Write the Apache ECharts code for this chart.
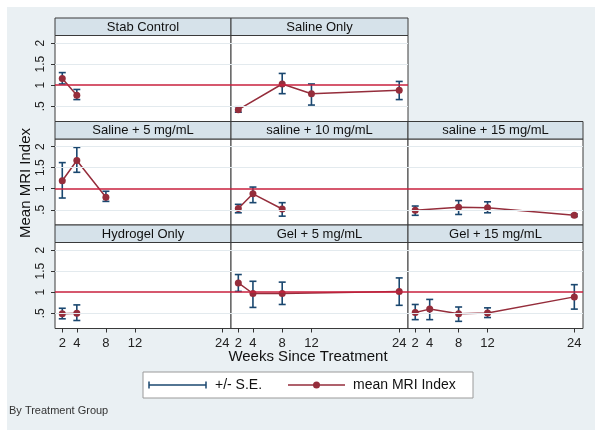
<!DOCTYPE html>
<html><head><meta charset="utf-8">
<script src="https://cdn.jsdelivr.net/npm/echarts@6/dist/echarts.min.js"></script>
<style>
html,body{margin:0;padding:0;background:#fff;}
#bg{position:absolute;left:7px;top:7px;width:588px;height:423px;background:#eaf0f3;}
#chart{position:absolute;left:0;top:0;width:602px;height:437px;}
</style></head>
<body><div id="bg"></div><div id="chart"></div>
<script>
// ---------- data ----------
const panelTitles = ['Stab Control','Saline Only','Saline + 5 mg/mL','saline + 10 mg/mL','saline + 15 mg/mL','Hydrogel Only','Gel + 5 mg/mL','Gel + 15 mg/mL'];
const weeksList = [[2,4],[2,8,12,24],[2,4,8],[2,4,8],[2,8,12,24],[2,4],[2,4,8,24],[2,4,8,12,24]];
const meanList  = [[1.16,0.76],[0.42,1.03,0.80,0.88],[1.19,1.67,0.80],[0.53,0.88,0.52],[0.49,0.56,0.55,0.37],[0.49,0.50],[1.22,0.97,0.97,1.02],[0.52,0.60,0.49,0.51,0.89]];
const seLow     = [[1.03,0.66],[0.36,0.80,0.53,0.66],[0.78,1.39,0.70],[0.43,0.67,0.35],[0.37,0.39,0.43,0.34],[0.37,0.33],[1.02,0.64,0.71,0.69],[0.35,0.35,0.31,0.40,0.60]];
const seHigh    = [[1.30,0.90],[0.49,1.28,1.03,1.09],[1.62,1.98,0.94],[0.63,1.04,0.67],[0.59,0.72,0.69,0.40],[0.62,0.70],[1.42,1.26,1.24,1.34],[0.71,0.83,0.65,0.63,1.18]];
const xTicks = [2,4,8,12,24];
const yTicks = [0.5,1,1.5,2];
const yTickLabels = ['.5','1','1.5','2'];
const refValue = 1;

// ---------- layout ----------
const panelRow = [0,0,1,1,1,2,2,2];
const panelCol = [0,1,0,1,2,0,1,2];
const colLeft = [55,231,408];
const colWidth = [176,177,175];
const rowTop = [18,121.5,225];
const headerH = 17.5;
const plotH = 86;
const NAVY = '#1a476f', MAROON = '#952d3b', REF = '#c8203e', GRIDC = '#e3eaee', FONT = 'Liberation Sans, Arial, sans-serif';

const grids = [], xAxes = [], yAxes = [], series = [], graphics = [];
panelTitles.forEach((t, i) => {
  const r = panelRow[i], c = panelCol[i];
  const left = colLeft[c], w = colWidth[c], top = rowTop[r] + headerH;
  grids.push({left: left, top: top, width: w, height: plotH, show: true, backgroundColor: '#fff', borderColor: '#3a3a3a', borderWidth: 1});
  const bottomRow = (r === 2);
  xAxes.push({type: 'value', gridIndex: i, min: 1, max: 25.2,
    axisLine: {show: false}, splitLine: {show: false},
    axisTick: {show: bottomRow, customValues: xTicks, length: 4, lineStyle: {color: '#333'}},
    axisLabel: {show: bottomRow, customValues: xTicks, fontSize: 13, color: '#222', margin: 8, fontFamily: FONT}});
  const leftCol = (c === 0);
  yAxes.push({type: 'value', gridIndex: i, min: 0.14, max: 2.18,
    axisLine: {show: false}, splitLine: {show: false},
    axisTick: {show: leftCol, customValues: yTicks, length: 4, lineStyle: {color: '#333'}},
    axisLabel: {show: leftCol, customValues: yTicks, rotate: 90, fontSize: 12, color: '#222', margin: 8, fontFamily: FONT,
      formatter: v => { const k = yTicks.indexOf(v); return k >= 0 ? yTickLabels[k] : ''; }}});
  // gridlines + reference line
  series.push({type: 'line', xAxisIndex: i, yAxisIndex: i, data: [], z: 1, silent: true,
    markLine: {silent: true, symbol: ['none','none'], label: {show: false}, animation: false,
      data: yTicks.filter(v => v !== refValue).map(v => ({yAxis: v, lineStyle: {color: GRIDC, width: 1, type: 'solid'}}))
        .concat([{yAxis: refValue, lineStyle: {color: REF, width: 1.6, type: 'solid'}}])}});
  // error bars
  series.push({type: 'custom', xAxisIndex: i, yAxisIndex: i, z: 2,
    data: weeksList[i].map((wk, j) => [wk, seLow[i][j], seHigh[i][j]]),
    encode: {x: 0, y: [1, 2]},
    renderItem: (params, api) => {
      const x = api.value(0);
      const pl = api.coord([x, api.value(1)]), ph = api.coord([x, api.value(2)]);
      const cw = 3.5, st = {stroke: NAVY, lineWidth: 1.6};
      return {type: 'group', children: [
        {type: 'line', shape: {x1: pl[0], y1: pl[1], x2: ph[0], y2: ph[1]}, style: st},
        {type: 'line', shape: {x1: pl[0]-cw, y1: pl[1], x2: pl[0]+cw, y2: pl[1]}, style: st},
        {type: 'line', shape: {x1: ph[0]-cw, y1: ph[1], x2: ph[0]+cw, y2: ph[1]}, style: st}]};
    }});
  // means
  series.push({type: 'line', xAxisIndex: i, yAxisIndex: i, z: 3,
    data: weeksList[i].map((wk, j) => [wk, meanList[i][j]]),
    symbol: 'circle', symbolSize: 7, itemStyle: {color: MAROON}, lineStyle: {color: MAROON, width: 1.5}});
  // header strip
  graphics.push({type: 'rect', shape: {x: left, y: rowTop[r], width: w, height: headerH},
    style: {fill: '#d6e2ea', stroke: '#3a3a3a', lineWidth: 1}});
  graphics.push({type: 'text', x: left + w/2, y: rowTop[r] + headerH/2 + 0.5,
    style: {text: t, fill: '#111', font: '13px ' + FONT, textAlign: 'center', textVerticalAlign: 'middle'}});
});

// axis titles
graphics.push({type: 'text', x: 308, y: 357, style: {text: 'Weeks Since Treatment', fill: '#111', font: '15px ' + FONT, textAlign: 'center', textVerticalAlign: 'middle'}});
graphics.push({type: 'text', x: 26, y: 183, rotation: Math.PI/2, style: {text: 'Mean MRI Index', fill: '#111', font: '15px ' + FONT, textAlign: 'center', textVerticalAlign: 'middle'}});
// legend
graphics.push({type: 'rect', shape: {x: 143, y: 372, width: 330, height: 26}, style: {fill: '#fff', stroke: '#9a9a9a', lineWidth: 1}});
graphics.push({type: 'line', shape: {x1: 149, y1: 385, x2: 206, y2: 385}, style: {stroke: NAVY, lineWidth: 1.5}});
graphics.push({type: 'line', shape: {x1: 149, y1: 381.5, x2: 149, y2: 388.5}, style: {stroke: NAVY, lineWidth: 1.5}});
graphics.push({type: 'line', shape: {x1: 206, y1: 381.5, x2: 206, y2: 388.5}, style: {stroke: NAVY, lineWidth: 1.5}});
graphics.push({type: 'text', x: 215, y: 385.5, style: {text: '+/- S.E.', fill: '#111', font: '14px ' + FONT, textVerticalAlign: 'middle'}});
graphics.push({type: 'line', shape: {x1: 288, y1: 385, x2: 345, y2: 385}, style: {stroke: MAROON, lineWidth: 1.5}});
graphics.push({type: 'circle', shape: {cx: 316.5, cy: 385, r: 3.5}, style: {fill: MAROON}});
graphics.push({type: 'text', x: 353, y: 385.5, style: {text: 'mean MRI Index', fill: '#111', font: '14px ' + FONT, textVerticalAlign: 'middle'}});
// note
graphics.push({type: 'text', x: 9, y: 411, style: {text: 'By Treatment Group', fill: '#333', font: '11px ' + FONT, textVerticalAlign: 'middle'}});

const chart = echarts.init(document.getElementById('chart'), null, {renderer: 'canvas'});
chart.setOption({animation: false, backgroundColor: 'transparent',
  grid: grids, xAxis: xAxes, yAxis: yAxes, series: series, graphic: {elements: graphics}});
</script></body></html>
